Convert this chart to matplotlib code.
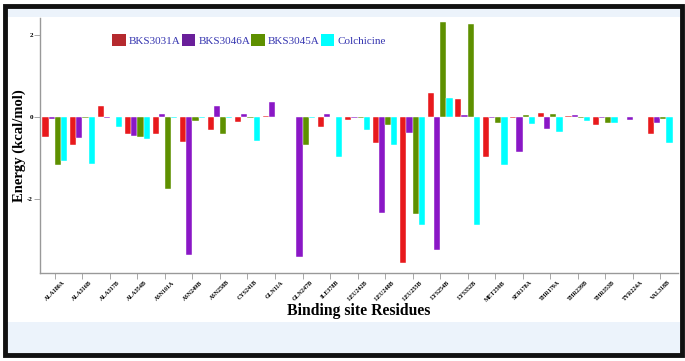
import numpy as np
import matplotlib
matplotlib.use("Agg")
import matplotlib.pyplot as plt
from matplotlib.patches import Rectangle, Patch

residues = ["ALA180A", "ALA316B", "ALA317B", "ALA354B", "ASN101A", "ASN249B",
            "ASN258B", "CYS241B", "GLN11A", "GLN247B", "ILE378B", "LEU242B",
            "LEU248B", "LEU255B", "LYS254B", "LYS352B", "MET259B", "SER178A",
            "THR179A", "THR239B", "THR353B", "TYR224A", "VAL318B"]

bks3031a = [-0.48, -0.67, 0.27, -0.41, -0.41, -0.61, -0.30, -0.11, 0.02, 0.01, -0.24, -0.06,
            -0.63, -3.55, 0.60, 0.44, -0.98, -0.02, 0.10, 0.02, -0.20, 0.0, -0.42]
bks3046a = [-0.05, -0.50, -0.03, -0.45, 0.07, -3.37, 0.27, 0.09, 0.37, -3.42, 0.07, -0.02,
            -2.34, -0.38, -3.23, 0.05, -0.02, -0.85, -0.29, 0.06, -0.02, -0.07, -0.15]
bks3045a = [-1.17, -0.01, 0.0, -0.48, -1.76, -0.10, -0.40, -0.03, 0.01, -0.67, 0.0, -0.02,
            -0.20, -2.37, 2.33, 2.28, -0.13, 0.06, 0.07, -0.02, -0.14, 0.0, -0.05]
colchicine = [-1.06, -1.15, -0.25, -0.53, -0.01, -0.01, -0.01, -0.57, 0.01, -0.01, -0.98, -0.32,
              -0.67, -2.64, 0.48, -2.64, -1.16, -0.17, -0.37, -0.09, -0.15, 0.0, -0.63]

series_names = ["BKS3031A", "BKS3046A", "BKS3045A", "Colchicine"]
bar_colors = ["#e8191c", "#8a17c6", "#5e9000", "#00ffff"]
legend_colors = ["#b52a2e", "#6a1f9a", "#5e9000", "#00ffff"]

plt.rcParams['font.family'] = ['Liberation Serif', 'DejaVu Serif']

fig = plt.figure(figsize=(6.85, 3.61), dpi=100)

# background bands and frame
fig.patches.append(Rectangle((0.008, 0.952), 0.985, 0.026, transform=fig.transFigure,
                             facecolor="#ecf3fb", edgecolor="none", zorder=-5))
fig.patches.append(Rectangle((0.008, 0.022), 0.985, 0.086, transform=fig.transFigure,
                             facecolor="#ecf3fb", edgecolor="none", zorder=-5))
fig.patches.append(Rectangle((0.007, 0.017), 0.988, 0.966, transform=fig.transFigure,
                             facecolor="none", edgecolor="#111111", linewidth=3.5, zorder=5))

ax = fig.add_axes([0.058, 0.244, 0.932, 0.706])
x = np.arange(len(residues))
w = 0.225
data = [bks3031a, bks3046a, bks3045a, colchicine]
for i, vals in enumerate(data):
    ax.bar(x + (i - 1.5) * w, vals, width=w, color=bar_colors[i],
           edgecolor="white", linewidth=0.3)

ax.set_xlim(-0.55, 22.65)
ax.set_ylim(-3.8, 2.42)
ax.set_yticks([2, 0, -2])
ax.set_yticklabels(["2", "0", "-2"], fontsize=5, fontweight="bold")
ax.set_xticks(x)
ax.set_xticklabels(residues, rotation=45, ha="center", va="top", fontsize=4.3,
                   fontweight="bold")
for s in ["top", "right"]:
    ax.spines[s].set_visible(False)
for s in ["left", "bottom"]:
    ax.spines[s].set_color("#999999")
    ax.spines[s].set_linewidth(1.0)
ax.tick_params(axis="both", color="#999999", length=4, width=0.6, pad=1)

ax.set_ylabel("Energy (kcal/mol)", fontsize=10.5, fontweight="bold")
ax.yaxis.set_label_coords(-0.022, 0.5)
ax.set_xlabel("Binding site Residues", fontsize=11.3, fontweight="bold")
ax.xaxis.set_label_coords(0.5, -0.118)

handles = [Patch(facecolor=c, edgecolor="none") for c in legend_colors]
leg = ax.legend(handles, series_names, loc="upper left", bbox_to_anchor=(0.098, 0.975),
                ncol=4, frameon=False, fontsize=8, handlelength=1.2, handleheight=1.2,
                columnspacing=0.1, handletextpad=0.3)
for t in leg.get_texts():
    t.set_color("#3535b0")

fig.savefig("out.png", dpi=100)
